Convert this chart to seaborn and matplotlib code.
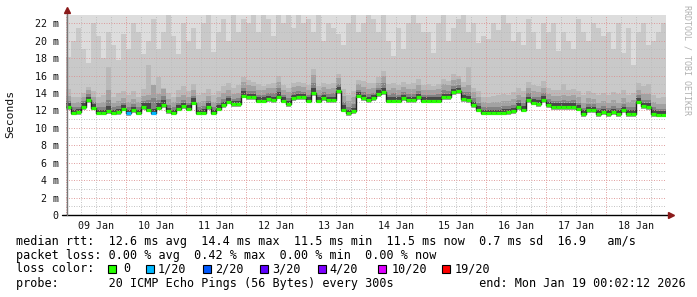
import numpy as np
import matplotlib
matplotlib.use("Agg")
import matplotlib.pyplot as plt
import seaborn as sns
from matplotlib.patches import Rectangle

# ---------------- data (2-hour bins, 09 Jan 00:00 -> 19 Jan 00:00) ----------------
median_ms = [
    12.4, 11.75, 11.8, 12.4, 13.2, 12.3, 11.75, 11.75, 11.9, 11.75, 11.8, 12.2,
    11.7, 12.0, 11.75, 12.4, 12.1, 11.75, 12.3, 12.6, 11.9, 11.75, 12.2, 12.5,
    12.2, 12.9, 11.75, 11.75, 12.4, 11.75, 12.2, 12.6, 13.0, 12.7, 12.7, 13.7,
    13.5, 13.5, 13.1, 13.1, 13.3, 13.2, 13.6, 13.1, 12.7, 13.4, 13.5, 13.5,
    13.1, 14.0, 13.1, 13.4, 13.2, 13.2, 14.2, 12.1, 11.7, 11.9, 13.7, 13.4,
    13.2, 13.4, 13.9, 14.1, 13.1, 13.1, 13.1, 13.4, 13.2, 13.2, 13.5, 13.1,
    13.1, 13.1, 13.1, 13.5, 13.5, 14.1, 14.2, 13.3, 13.2, 12.6, 12.1, 11.75,
    11.75, 11.75, 11.75, 11.75, 11.8, 11.9, 12.4, 12.1, 13.2, 12.9, 12.75, 13.2,
    12.6, 12.4, 12.4, 12.4, 12.4, 12.4, 12.2, 11.6, 12.0, 12.0, 11.6, 11.8,
    11.6, 11.8, 11.6, 12.0, 11.6, 11.6, 13.0, 12.5, 12.4, 11.6, 11.5, 11.5,
]
ping_lo = [
    12.1, 11.45, 11.5, 12.1, 12.9, 12.0, 11.45, 11.45, 11.6, 11.45, 11.5, 11.9,
    11.4, 11.7, 11.45, 12.1, 11.8, 11.45, 12.0, 12.3, 11.6, 11.45, 11.9, 12.2,
    11.9, 12.6, 11.45, 11.45, 12.1, 11.45, 11.9, 12.3, 12.7, 12.4, 12.4, 13.4,
    13.2, 13.2, 12.8, 12.8, 13.0, 12.9, 13.3, 12.8, 12.4, 13.1, 13.2, 13.2,
    12.8, 13.7, 12.8, 13.1, 12.9, 12.9, 13.9, 11.8, 11.4, 11.6, 13.4, 13.1,
    12.9, 13.1, 13.6, 13.8, 12.8, 12.8, 12.8, 13.1, 12.9, 12.9, 13.2, 12.8,
    12.8, 12.8, 12.8, 13.2, 13.2, 13.8, 13.9, 13.0, 12.9, 12.3, 11.8, 11.45,
    11.45, 11.45, 11.45, 11.45, 11.5, 11.6, 12.1, 11.8, 12.9, 12.6, 12.45, 12.9,
    12.3, 12.1, 12.1, 12.1, 12.1, 12.1, 11.9, 11.3, 11.7, 11.7, 11.3, 11.5,
    11.3, 11.5, 11.3, 11.7, 11.3, 11.3, 12.7, 12.2, 12.1, 11.3, 11.2, 11.2,
]
smoke_inner = [
    12.8, 12.1, 12.2, 12.8, 13.6, 12.7, 12.1, 12.1, 12.5, 12.1, 12.2, 12.6,
    12.1, 12.4, 12.1, 12.8, 12.9, 12.2, 12.9, 13.2, 12.3, 12.1, 12.6, 12.9,
    12.6, 13.4, 12.1, 12.2, 12.8, 12.1, 12.6, 13.0, 13.4, 13.1, 13.1, 14.2,
    13.9, 13.9, 13.5, 13.5, 13.7, 13.6, 14.1, 13.5, 13.1, 13.8, 13.9, 13.9,
    13.5, 14.6, 13.5, 13.8, 13.6, 13.6, 14.7, 12.6, 12.1, 12.3, 14.1, 13.8,
    13.6, 13.8, 14.3, 14.6, 13.5, 13.6, 13.5, 13.8, 13.6, 13.6, 13.9, 13.5,
    13.5, 13.5, 13.5, 13.9, 13.9, 14.5, 14.6, 13.8, 13.7, 13.0, 12.5, 12.1,
    12.1, 12.1, 12.1, 12.2, 12.2, 12.3, 12.8, 12.5, 13.6, 13.3, 13.2, 13.7,
    13.0, 12.8, 12.8, 12.8, 12.8, 12.8, 12.6, 12.0, 12.4, 12.4, 12.0, 12.2,
    12.0, 12.2, 12.0, 12.4, 12.0, 12.0, 13.4, 12.9, 12.8, 12.0, 11.9, 11.9,
]
smoke_p16 = [
    13.1, 12.35, 12.45, 13.05, 13.85, 12.95, 12.35, 12.4, 13.25, 12.35, 12.5, 12.85,
    12.4, 12.7, 12.4, 13.1, 13.2, 13.4, 13.25, 13.7, 12.65, 12.4, 12.9, 13.2,
    12.9, 13.7, 12.4, 12.5, 13.1, 12.4, 12.9, 13.35, 13.7, 13.35, 13.4, 14.6,
    14.25, 14.2, 13.8, 13.75, 14.0, 13.95, 14.55, 13.8, 13.45, 14.1, 14.2, 14.15,
    13.8, 15.2, 13.75, 14.1, 13.9, 13.95, 15.05, 13.0, 12.45, 12.75, 14.4, 14.1,
    13.9, 14.05, 14.6, 15.1, 13.8, 13.95, 13.8, 14.1, 13.9, 13.9, 14.25, 13.8,
    13.8, 13.75, 13.85, 14.3, 14.25, 14.85, 14.95, 14.1, 14.15, 13.4, 12.9, 12.4,
    12.35, 12.4, 12.4, 12.5, 12.5, 12.65, 13.15, 12.85, 13.95, 13.6, 13.5, 14.0,
    13.3, 13.1, 13.1, 13.15, 13.1, 13.15, 12.9, 12.3, 12.75, 12.7, 12.3, 12.5,
    12.3, 12.55, 12.3, 12.75, 12.35, 12.45, 13.75, 13.25, 13.2, 12.35, 12.15, 12.15,
]
smoke_p17 = [
    13.7, 12.9, 13.0, 13.6, 14.4, 13.5, 12.9, 13.0, 14.3, 12.9, 13.1, 13.4,
    13.0, 13.3, 13.0, 13.7, 13.8, 14.9, 13.9, 14.5, 13.3, 13.0, 13.5, 13.8,
    13.5, 14.3, 13.0, 13.1, 13.7, 13.0, 13.5, 14.0, 14.3, 13.9, 14.0, 15.3,
    14.9, 14.8, 14.4, 14.3, 14.6, 14.6, 15.3, 14.4, 14.1, 14.7, 14.8, 14.7,
    14.4, 16.1, 14.3, 14.7, 14.5, 14.6, 15.7, 13.7, 13.1, 13.5, 15.0, 14.7,
    14.5, 14.6, 15.2, 15.9, 14.4, 14.6, 14.4, 14.7, 14.5, 14.5, 14.9, 14.4,
    14.4, 14.3, 14.5, 15.0, 14.9, 15.5, 15.6, 14.7, 14.9, 14.1, 13.6, 13.0,
    12.9, 13.0, 13.0, 13.1, 13.1, 13.3, 13.8, 13.5, 14.6, 14.2, 14.1, 14.6,
    13.9, 13.7, 13.7, 13.8, 13.7, 13.8, 13.5, 12.9, 13.4, 13.3, 12.9, 13.1,
    12.9, 13.2, 12.9, 13.4, 13.0, 13.2, 14.4, 13.9, 13.9, 13.0, 12.7, 12.7,
]
smoke_p18 = [
    14.5, 13.5, 13.6, 14.0, 14.7, 14.2, 13.5, 13.8, 17.0, 13.6, 14.0, 14.2,
    13.8, 14.2, 13.6, 14.5, 17.2, 14.0, 15.8, 14.6, 14.0, 13.6, 14.4, 14.8,
    14.2, 15.0, 13.8, 14.0, 14.5, 13.8, 14.2, 14.8, 15.2, 14.6, 14.9, 15.8,
    15.5, 15.3, 15.0, 14.8, 15.0, 15.2, 16.0, 14.9, 14.6, 15.2, 15.3, 15.1,
    14.9, 16.8, 14.8, 15.2, 15.0, 15.1, 16.2, 14.5, 13.8, 14.2, 15.5, 15.4,
    15.1, 15.2, 15.8, 16.5, 15.0, 15.2, 14.9, 15.3, 15.0, 15.1, 15.6, 14.9,
    15.0, 14.8, 15.0, 15.6, 15.4, 16.2, 16.0, 15.3, 17.0, 14.6, 14.2, 13.6,
    13.5, 13.7, 13.8, 13.9, 13.8, 14.1, 14.6, 14.2, 15.3, 14.9, 14.8, 15.4,
    14.6, 14.4, 14.3, 15.0, 14.4, 14.5, 14.2, 13.8, 14.2, 14.0, 13.8, 14.0,
    13.8, 14.1, 13.9, 14.3, 13.8, 14.0, 15.2, 14.8, 15.0, 13.8, 13.4, 13.5,
]
smoke_p19 = [
    18.1, 20.0, 21.5, 19.0, 17.5, 22.0, 20.5, 18.0, 21.0, 19.5, 17.8, 20.8,
    19.0, 22.0, 21.0, 18.5, 20.0, 22.5, 19.0, 21.0, 23.0, 20.5, 18.5, 22.0,
    20.0, 21.5, 19.0, 22.0, 23.0, 18.7, 21.0, 22.5, 20.0, 23.0, 21.0, 22.5,
    22.0, 23.0, 21.0, 23.0, 22.5, 20.5, 23.0, 22.0, 23.0, 21.5, 23.0, 22.0,
    22.5, 21.0, 23.0, 20.0, 22.0, 21.5, 20.8, 19.5, 22.0, 23.0, 21.0, 22.0,
    23.0, 22.5, 21.0, 23.0, 20.0, 18.3, 21.5, 19.0, 22.0, 23.0, 22.0, 21.0,
    21.0, 18.6, 22.0, 23.0, 20.0, 21.5, 22.5, 23.0, 21.0, 22.0, 19.7, 20.5,
    20.2, 22.0, 21.2, 23.0, 22.0, 20.0, 21.0, 19.5, 22.5, 21.0, 19.0, 22.0,
    21.0, 22.0, 18.8, 21.0, 20.0, 19.0, 22.5, 21.0, 20.0, 22.0, 21.5, 20.5,
    21.0, 19.0, 22.0, 18.6, 21.5, 17.2, 21.0, 22.0, 19.5, 20.0, 21.0, 22.0,
]
loss_idx = [
    0, 0, 0, 0, 0, 0, 0, 0, 0, 0, 0, 0,
    1, 0, 0, 0, 0, 1, 0, 0, 0, 0, 0, 0,
    0, 0, 0, 0, 0, 0, 0, 0, 0, 0, 0, 0,
    0, 0, 0, 0, 0, 0, 0, 0, 0, 0, 0, 0,
    0, 0, 0, 0, 0, 0, 0, 0, 0, 0, 0, 0,
    0, 0, 0, 0, 0, 0, 0, 0, 0, 0, 0, 0,
    0, 0, 0, 0, 0, 0, 0, 0, 0, 0, 0, 0,
    0, 0, 0, 0, 0, 0, 0, 0, 0, 0, 0, 0,
    0, 0, 0, 0, 0, 0, 0, 0, 0, 0, 0, 0,
    0, 0, 0, 0, 0, 0, 0, 0, 0, 0, 0, 0,
]
loss_labels = ["0", "1/20", "2/20", "3/20", "4/20", "10/20", "19/20"]
loss_colors = ["#26ff00", "#00b8ff", "#0059ff", "#5e00ff", "#7e00ff", "#dd00ff", "#ff0000"]
day_labels = ["09 Jan", "10 Jan", "11 Jan", "12 Jan", "13 Jan",
              "14 Jan", "15 Jan", "16 Jan", "17 Jan", "18 Jan"]
ytick_vals = [0, 2, 4, 6, 8, 10, 12, 14, 16, 18, 20, 22]
ytick_labels = ["0", "2 m", "4 m", "6 m", "8 m", "10 m", "12 m",
                "14 m", "16 m", "18 m", "20 m", "22 m"]
legend_lines = [
    "median rtt:  12.6 ms avg  14.4 ms max  11.5 ms min  11.5 ms now  0.7 ms sd  16.9   am/s",
    "packet loss: 0.00 % avg  0.42 % max  0.00 % min  0.00 % now",
    "loss color:",
    "probe:       20 ICMP Echo Pings (56 Bytes) every 300s            end: Mon Jan 19 00:02:12 2026",
]
top_clip = 23.0

# ---------------- styling ----------------
sns.set_theme(style="white")
plt.rcParams['font.family'] = ['DejaVu Sans Mono', 'DejaVu Sans']

W, H = 697, 297
fig = plt.figure(figsize=(W / 100, H / 100), dpi=100)
def fx(px): return px / W
def fy(py): return 1 - py / H

ax = fig.add_axes([fx(65.7), fy(215), 600 / W, (215 - 14.6) / H])
ax.set_facecolor("white")

n = len(median_ms)
ndays = len(day_labels)
step = ndays / n
t = np.arange(n) * step
te = np.append(t, ndays)
def ext(a):
    a = np.asarray(a, float)
    return np.append(a, a[-1])

lo = ext(ping_lo)
ax.fill_between(te, lo, top_clip, step='post', color='#dddddd', lw=0, zorder=1)
for arr, col in [(smoke_p19, '#c9c9c9'), (smoke_p18, '#b9b9b9'), (smoke_p17, '#a2a2a2')]:
    ax.fill_between(te, lo, ext(arr), step='post', color=col, lw=0, zorder=1)
for arr, col in [(smoke_p16, '#838383'), (smoke_inner, '#484848')]:
    ax.fill_between(te, ext(median_ms), ext(arr), step='post', color=col, lw=0, zorder=1)

# grid (drawn over smoke, like rrdtool)
for xv in np.arange(0, ndays + 0.001, 0.25):
    major = abs(xv - round(xv)) < 1e-9
    ax.axvline(xv, color='#dc9090' if major else '#bbbbbb', lw=0.6,
               ls=(0, (1.2, 1.8)), zorder=2.5)
for yv in range(0, 23):
    major = yv % 2 == 0
    ax.axhline(yv, color='#dc9090' if major else '#bbbbbb', lw=0.6,
               ls=(0, (1.2, 1.8)), zorder=2.5)

# median line (black transitions) + loss coloured segments
sns.lineplot(x=te, y=ext(median_ms), drawstyle='steps-post', color='#202020',
             lw=1.0, ax=ax, zorder=3, legend=False)
ax.hlines(median_ms, t, t + step, colors=[loss_colors[i] for i in loss_idx],
          lw=2.3, zorder=4)

ax.set_xlim(0, ndays)
ax.set_ylim(0, top_clip)
ax.set_xticks(np.arange(ndays) + 0.5)
ax.set_xticklabels(day_labels)
ax.set_yticks(ytick_vals)
ax.set_yticklabels(ytick_labels)
ax.tick_params(axis='both', length=0, labelsize=7.2, colors='#111111')
ax.tick_params(axis='y', pad=5)
ax.tick_params(axis='x', pad=4)
ax.set_xlabel("")
ax.set_ylabel("")
for s in ['top', 'right', 'left', 'bottom']:
    ax.spines[s].set_visible(False)

# axes lines with arrows
ax.plot([-0.006, 1.006], [0, 0], transform=ax.transAxes, color='black', lw=1,
        clip_on=False, zorder=5)
ax.plot([0.002, 0.002], [0, 1.02], transform=ax.transAxes, color='#777777', lw=1,
        clip_on=False, zorder=5)
ax.plot([0.002], [1.025], marker='^', ms=4.5, color='#8b1a1a', transform=ax.transAxes,
        clip_on=False, zorder=6)
ax.plot([1.008], [0.0], marker='>', ms=4.5, color='#8b1a1a', transform=ax.transAxes,
        clip_on=False, zorder=6)

# y label & watermark
fig.text(fx(10), fy(114), "Seconds", rotation=90, ha='center', va='center',
         fontsize=8.2, color='#111111')
fig.text(fx(687), fy(60), "RRDTOOL / TOBI OETIKER", rotation=270, ha='center',
         va='center', fontsize=6.0, color='#b0b0b0')

# legend
leg_fs = 8.45
line_y = [241, 255, 269, 283]
for txt, yy in zip(legend_lines, line_y):
    fig.text(fx(16), fy(yy), txt, ha='left', va='center', fontsize=leg_fs, color='black')
box_x = [108, 146, 203, 260, 318, 378, 442]
lab_x = [123, 158, 215, 272, 329, 392, 455]
for bx, lx, lab, col in zip(box_x, lab_x, loss_labels, loss_colors):
    fig.patches.append(Rectangle((fx(bx), fy(272.5)), 8 / W, 8 / H, transform=fig.transFigure,
                                 facecolor=col, edgecolor='black', lw=0.8))
    fig.text(fx(lx), fy(269), lab, ha='left', va='center', fontsize=leg_fs, color='black')

fig.savefig("out.png", dpi=100)
